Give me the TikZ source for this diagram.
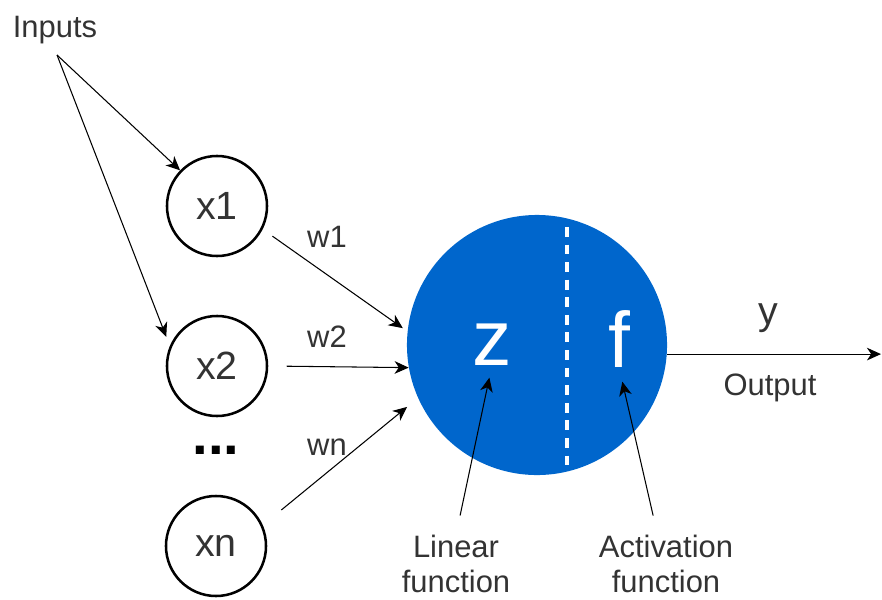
\documentclass[tikz,border=0pt]{standalone}
\usepackage{fontspec}
\setmainfont{Liberation Sans}
\usetikzlibrary{arrows.meta}
\definecolor{nblue}{HTML}{0066CC}
\definecolor{txtgray}{HTML}{333333}

\begin{document}
\begin{tikzpicture}[x=0.025cm,y=-0.025cm,
    wire/.style={-{Stealth[length=10pt,width=9pt,inset=3pt]}, line width=0.75pt},
    inode/.style={circle, draw, line width=1.8pt, minimum size=2.5cm, inner sep=0pt,
        font=\fontsize{28}{30}\selectfont, text=txtgray},
    lbl/.style={font=\fontsize{22}{25}\selectfont, text=txtgray, inner sep=0pt},
    bigsym/.style={font=\fontsize{56}{60}\selectfont, text=white, inner sep=0pt, anchor=base}]
    \useasboundingbox (0,0) rectangle (882,599);
    % inputs
    \node[lbl, anchor=base] (inputs) at (55,37) {Inputs};
    \coordinate (fork) at (57,55);
    \node[inode] (x1) at (217,206) {x1};
    \node[inode] (x2) at (217,366) {x2};
    \node[font=\bfseries\fontsize{40}{40}\selectfont, inner sep=0pt, anchor=base] (dots) at (216,454) {...};
    \node[inode] (xn) at (216,546) {xn};
    \draw[wire] (fork) -- (x1.136);
    \draw[wire, shorten >=7pt] (fork) -- (x2.157);
    % neuron
    \node[circle, fill=nblue, minimum size=6.5cm, inner sep=0pt] (neuron) at (537,345) {};
    \draw[white, line width=2.2pt, dash pattern=on 7pt off 5.5pt] (567,227) -- (567,470);
    \node[bigsym] (zsym) at (492,365) {z};
    \node[bigsym] (fsym) at (619,367) {f};
    % weights
    \draw[wire, shorten <=8.5pt, shorten >=4pt] (x1.-27) -- (neuron.174);
    \draw[wire, shorten <=13pt] (x2.0) -- (neuron.190);
    \draw[wire, shorten <=17pt, shorten >=10pt] (xn.24) -- (neuron.204);
    \node[lbl, anchor=base] (w1) at (327,247) {w1};
    \node[lbl, anchor=base] (w2) at (327,347) {w2};
    \node[lbl, anchor=base] (wn) at (327,455) {wn};
    % output
    \coordinate (yend) at (881,355);
    \draw[wire] (neuron.-4) -- (neuron.-4 -| yend);
    \node[lbl, anchor=base, font=\fontsize{28}{30}\selectfont] (ylab) at (768,324) {y};
    \node[lbl, anchor=base] (outlab) at (770,395) {Output};
    % function labels
    \node[lbl, align=center] (lin) at (456,564) {Linear\\function};
    \node[lbl, align=center] (act) at (666,564) {Activation\\function};
    \draw[wire, shorten <=14pt, shorten >=9pt] (lin.north) -- (zsym.south);
    \draw[wire, shorten <=14pt, shorten >=10.5pt] ([xshift=-6pt]act.north) -- (fsym.south);
\end{tikzpicture}
\end{document}
